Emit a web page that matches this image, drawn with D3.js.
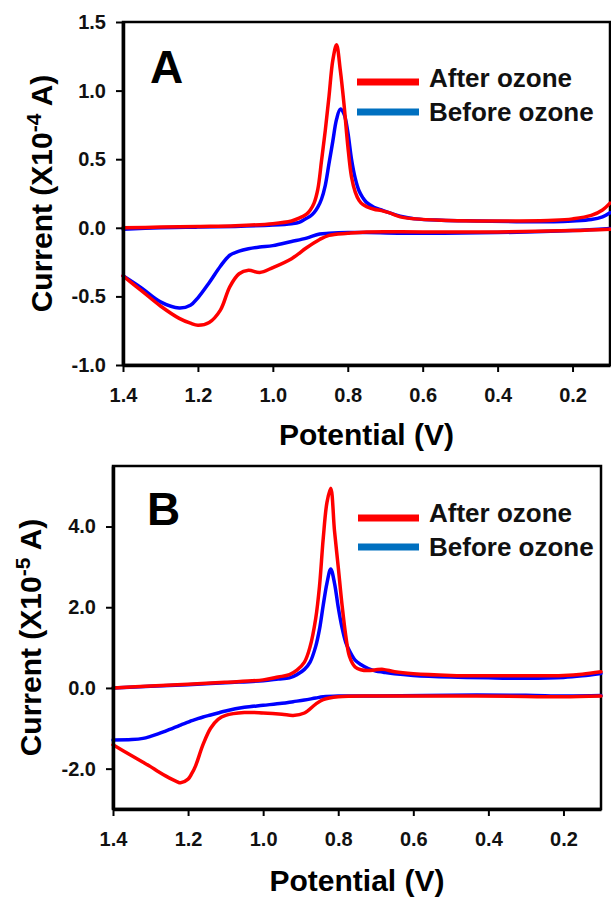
<!DOCTYPE html>
<html>
<head>
<meta charset="utf-8">
<script src="https://cdn.jsdelivr.net/npm/d3@7"></script>
<style>
  body { margin: 0; background: #fff; }
  svg { display: block; font-family: "Liberation Sans", Arial, sans-serif; font-weight: bold; }
</style>
</head>
<body>
<svg id="fig" width="611" height="898"></svg>
<script>
// ---- Panel A (current in 1e-4 A) ----
const aUpperV = [1.40, 1.30, 1.20, 1.10, 1.00, 0.95, 0.93, 0.91, 0.90, 0.89, 0.88, 0.87, 0.86, 0.85, 0.84,
    0.83, 0.82, 0.81, 0.80, 0.79, 0.78, 0.77, 0.76, 0.75, 0.73, 0.71, 0.69, 0.66, 0.62, 0.55, 0.45, 0.35,
    0.25, 0.20, 0.15, 0.12, 0.10];
const aAfterUpper = [0.00, 0.005, 0.01, 0.015, 0.03, 0.05, 0.07, 0.10, 0.13, 0.18, 0.28, 0.49, 0.71, 0.96, 1.22,
    1.335, 1.15, 0.90, 0.60, 0.37, 0.26, 0.20, 0.17, 0.155, 0.135, 0.125, 0.11, 0.08, 0.065, 0.055, 0.05, 0.05,
    0.055, 0.065, 0.09, 0.13, 0.18];
const aBeforeUpper = [-0.01, 0.0, 0.005, 0.01, 0.02, 0.03, 0.04, 0.07, 0.085, 0.11, 0.15, 0.21, 0.31, 0.47, 0.63,
    0.79, 0.865, 0.83, 0.70, 0.50, 0.36, 0.27, 0.22, 0.185, 0.15, 0.13, 0.11, 0.085, 0.065, 0.055, 0.05, 0.045,
    0.045, 0.05, 0.06, 0.08, 0.11];

const aLowerV = [1.40, 1.35, 1.30, 1.25, 1.22, 1.20, 1.17, 1.14, 1.115, 1.09, 1.065, 1.035, 1.00, 0.95,
    0.91, 0.875, 0.85, 0.80, 0.75, 0.60, 0.40, 0.20, 0.10];
const aAfterLower = [-0.35, -0.46, -0.57, -0.66, -0.695, -0.71, -0.69, -0.60, -0.43, -0.335, -0.31, -0.326, -0.29, -0.225,
    -0.145, -0.085, -0.055, -0.04, -0.03, -0.03, -0.03, -0.02, -0.01];
const aBeforeLower = [-0.35, -0.44, -0.54, -0.585, -0.565, -0.51, -0.40, -0.28, -0.20, -0.17, -0.153, -0.14, -0.13, -0.10,
    -0.075, -0.045, -0.04, -0.035, -0.035, -0.04, -0.035, -0.02, -0.005];

// ---- Panel B (current in 1e-5 A) ----
const bUpperV = [1.40, 1.30, 1.20, 1.10, 1.00, 0.96, 0.93, 0.91, 0.89, 0.875, 0.86, 0.85, 0.84, 0.83, 0.82,
    0.81, 0.80, 0.79, 0.78, 0.77, 0.755, 0.74, 0.72, 0.70, 0.68, 0.65, 0.60, 0.50, 0.40, 0.30, 0.20, 0.15, 0.10];
const bAfterUpper = [0.00, 0.05, 0.09, 0.14, 0.20, 0.27, 0.33, 0.44, 0.64, 1.02, 1.72, 2.51, 3.70, 4.60, 4.95,
    3.90, 3.00, 2.07, 1.30, 0.78, 0.52, 0.45, 0.43, 0.45, 0.46, 0.40, 0.35, 0.31, 0.30, 0.30, 0.31, 0.34, 0.40];
const bBeforeUpper = [0.00, 0.04, 0.08, 0.13, 0.18, 0.22, 0.25, 0.33, 0.46, 0.64, 1.03, 1.45, 2.05, 2.60, 2.95,
    2.60, 2.00, 1.50, 1.13, 0.92, 0.69, 0.58, 0.48, 0.42, 0.39, 0.35, 0.31, 0.27, 0.25, 0.24, 0.26, 0.30, 0.36];

const bLowerV = [1.40, 1.35, 1.32, 1.30, 1.28, 1.26, 1.23, 1.22, 1.20, 1.19, 1.18, 1.16, 1.14, 1.12, 1.10,
    1.05, 1.00, 0.95, 0.92, 0.89, 0.86, 0.84, 0.80, 0.70, 0.50, 0.30, 0.20, 0.10];
const bAfterLower = [-1.41, -1.68, -1.84, -1.95, -2.07, -2.18, -2.32, -2.35, -2.26, -2.12, -1.93, -1.40, -1.00, -0.78, -0.68,
    -0.61, -0.62, -0.65, -0.68, -0.62, -0.40, -0.29, -0.22, -0.20, -0.20, -0.21, -0.22, -0.20];
const bBeforeLower = [-1.29, -1.28, -1.25, -1.20, -1.14, -1.07, -0.96, -0.92, -0.85, -0.81, -0.78, -0.72, -0.67, -0.62, -0.57,
    -0.48, -0.43, -0.38, -0.34, -0.30, -0.25, -0.22, -0.20, -0.20, -0.18, -0.18, -0.20, -0.19];

const xTicks = [1.4, 1.2, 1.0, 0.8, 0.6, 0.4, 0.2];
const aYTicks = [-1.0, -0.5, 0.0, 0.5, 1.0, 1.5];
const bYTicks = [-2.0, 0.0, 2.0, 4.0];
const seriesNames = ["After ozone", "Before ozone"];
const lineColors = { "After ozone": "#ff0000", "Before ozone": "#0000ff" };
const legendColors = { "After ozone": "#ff0000", "Before ozone": "#0070c0" };

function cv_panel(cfg) {
    const Fig = d3.select("#fig").append("g");

    const x = d3.scaleLinear().domain([1.4, 0.1]).range([cfg.left, cfg.right]);
    const y = d3.scaleLinear().domain(cfg.yDomain).range([cfg.bottom, cfg.top]);

    const line = d3.line()
        .x(d => x(d[0]))
        .y(d => y(d[1]))
        .curve(d3.curveCatmullRom.alpha(0.5));

    // box round the plot
    Fig.append("rect")
        .attr("x", cfg.left)
        .attr("y", cfg.top)
        .attr("width", cfg.right - cfg.left)
        .attr("height", cfg.bottom - cfg.top)
        .attr("fill", "none")
        .attr("stroke", "#000")
        .attr("stroke-width", 2.5);

    // blue first, red drawn on top
    [cfg.before, cfg.after].forEach(s => {
        [[s.upV, s.up], [s.lowV, s.low]].forEach(([vs, cur]) => {
            Fig.append("path")
                .datum(vs.map((v, i) => [v, cur[i]]))
                .attr("d", line)
                .attr("fill", "none")
                .attr("stroke", lineColors[s.name])
                .attr("stroke-width", 3.5)
                .attr("stroke-linejoin", "round")
                .attr("stroke-linecap", "round");
        });
    });

    // axes
    const xAxis = d3.axisBottom(x).tickValues(xTicks).tickSize(7).tickSizeOuter(0)
        .tickPadding(16).tickFormat(d => d.toFixed(1));
    const yAxis = d3.axisLeft(y).tickValues(cfg.yTicks).tickSize(7).tickSizeOuter(0)
        .tickPadding(10).tickFormat(d => d.toFixed(1));

    const gx = Fig.append("g").attr("transform", `translate(0,${cfg.bottom})`).call(xAxis);
    const gy = Fig.append("g").attr("transform", `translate(${cfg.left},0)`).call(yAxis);

    [gx, gy].forEach(a => {
        a.attr("font-family", null).attr("font-size", null);
        a.select(".domain").attr("stroke-width", 3.5);
        a.selectAll(".tick line").attr("stroke-width", 2);
        a.selectAll(".tick text")
            .attr("fill", "#111")
            .style("font-size", "20px")
            .style("font-weight", "bold");
    });

    // axis titles
    Fig.append("text")
        .attr("x", (cfg.left + cfg.right) / 2)
        .attr("y", cfg.xTitleY)
        .attr("text-anchor", "middle")
        .style("font-size", "30px")
        .text("Potential (V)");

    const yt = Fig.append("text")
        .attr("transform", `translate(${cfg.yTitleX},${(cfg.top + cfg.bottom) / 2}) rotate(-90)`)
        .attr("text-anchor", "middle")
        .style("font-size", "30px");
    yt.append("tspan").text("Current (X10");
    yt.append("tspan").attr("dy", -11).style("font-size", "21px").text(cfg.exponent);
    yt.append("tspan").attr("dy", 11).text(" A)");

    // panel letter
    Fig.append("text")
        .attr("x", cfg.letterX)
        .attr("y", cfg.letterY)
        .style("font-size", "46px")
        .text(cfg.letter);

    // legend
    seriesNames.forEach((name, i) => {
        Fig.append("line")
            .attr("x1", cfg.legX1)
            .attr("x2", cfg.legX2)
            .attr("y1", cfg.legLineY[i])
            .attr("y2", cfg.legLineY[i])
            .attr("stroke", legendColors[name])
            .attr("stroke-width", 7);
        Fig.append("text")
            .attr("x", cfg.legTextX)
            .attr("y", cfg.legTextY[i])
            .attr("fill", "#111")
            .style("font-size", "26px")
            .text(name);
    });
}

cv_panel({
    left: 123, right: 610, top: 22, bottom: 365,
    yDomain: [-1.0, 1.5], yTicks: aYTicks, exponent: "-4",
    xTitleY: 445, yTitleX: 52,
    letter: "A", letterX: 150, letterY: 83,
    legX1: 357, legX2: 419, legLineY: [82, 112], legTextX: 429, legTextY: [87, 121],
    after: { name: "After ozone", upV: aUpperV, up: aAfterUpper, lowV: aLowerV, low: aAfterLower },
    before: { name: "Before ozone", upV: aUpperV, up: aBeforeUpper, lowV: aLowerV, low: aBeforeLower }
});

cv_panel({
    left: 113, right: 601, top: 466, bottom: 809,
    yDomain: [-3.0, 5.5], yTicks: bYTicks, exponent: "-5",
    xTitleY: 891, yTitleX: 41,
    letter: "B", letterX: 147, letterY: 525,
    legX1: 358, legX2: 419, legLineY: [518, 547], legTextX: 429, legTextY: [522, 556],
    after: { name: "After ozone", upV: bUpperV, up: bAfterUpper, lowV: bLowerV, low: bAfterLower },
    before: { name: "Before ozone", upV: bUpperV, up: bBeforeUpper, lowV: bLowerV, low: bBeforeLower }
});
</script>
</body>
</html>
